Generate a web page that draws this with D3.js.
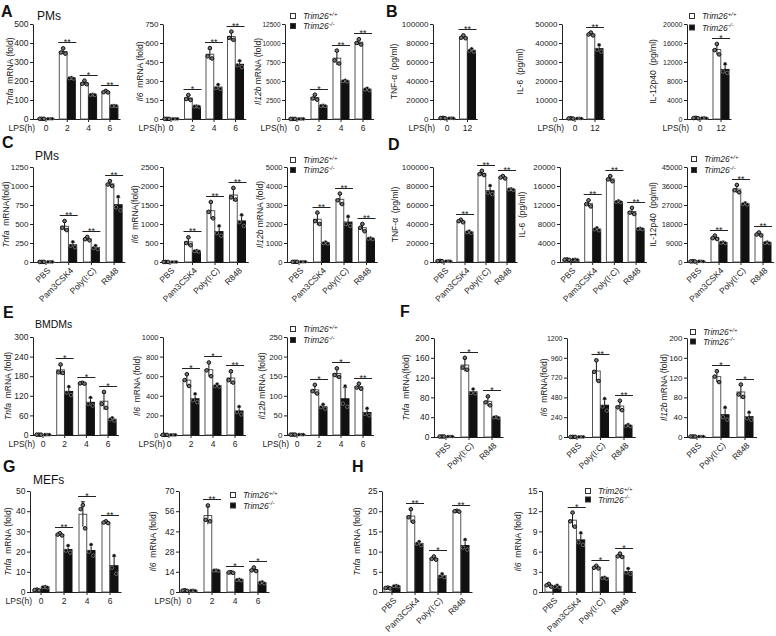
<!DOCTYPE html>
<html>
<head>
<meta charset="utf-8">
<script src="https://d3js.org/d3.v7.min.js"></script>
<style>
  body { margin: 0; background: #fff; }
</style>
</head>
<body>
<script>
// categories
var lpsTimes = ["0", "2", "4", "6"];
var lpsLong = ["0", "12"];
var stimuli = ["PBS", "Pam3CSK4", "Poly(I:C)", "R848"];
var stimuliF = ["PBS", "Poly(I:C)", "R848"];

// A: PMs, LPS time course (mRNA fold)
var aTnfaTicks = [0, 100, 200, 300, 400, 500];
var aTnfaWt = [[1, 1, 1], [372, 350, 344], [202, 185, 183], [148, 141, 140]];
var aTnfaKo = [[1, 1, 1], [218, 215, 213], [130, 128, 127], [71, 70, 69]];
var aTnfaSig = ["", "**", "*", "**"];

var aIl6Ticks = [0, 150, 300, 450, 600, 750];
var aIl6Wt = [[1, 1, 1], [190, 158, 150], [560, 495, 478], [690, 640, 625]];
var aIl6Ko = [[1, 1, 1], [103, 100, 98], [272, 245, 238], [460, 425, 410]];
var aIl6Sig = ["", "*", "**", "**"];

var aIl12Ticks = [0, 2500, 5000, 7500, 10000, 12500];
var aIl12Wt = [[10, 10, 10], [3200, 2700, 2550], [9000, 7700, 7300], [10500, 10000, 9800]];
var aIl12Ko = [[10, 10, 10], [1800, 1750, 1720], [5100, 5000, 4950], [4050, 3900, 3800]];
var aIl12Sig = ["", "*", "**", "**"];

// B: PMs, LPS 12 h (pg/ml)
var bTnfTicks = [0, 20000, 40000, 60000, 80000, 100000];
var bTnfWt = [[1200, 1000, 800], [88000, 85500, 85000]];
var bTnfKo = [[900, 800, 700], [74000, 72000, 71000]];
var bTnfSig = ["", "**"];

var bIl6Ticks = [0, 10000, 20000, 30000, 40000, 50000];
var bIl6Wt = [[400, 300, 200], [45500, 44500, 44000]];
var bIl6Ko = [[350, 300, 250], [39000, 36500, 35500]];
var bIl6Sig = ["", "**"];

var bIl12Ticks = [0, 4000, 8000, 12000, 16000, 20000];
var bIl12Wt = [[250, 200, 150], [15800, 14500, 13600]];
var bIl12Ko = [[250, 200, 150], [11600, 10000, 9700]];
var bIl12Sig = ["", "*"];

// C: PMs, TLR ligands (mRNA fold)
var cTnfaTicks = [0, 250, 500, 750, 1000, 1250];
var cTnfaWt = [[1, 1, 1], [540, 450, 420], [330, 300, 285], [1065, 1020, 1000]];
var cTnfaKo = [[1, 1, 1], [265, 215, 195], [215, 185, 170], [860, 720, 680]];
var cTnfaSig = ["", "**", "**", "**"];

var cIl6Ticks = [0, 500, 1000, 1500, 2000, 2500];
var cIl6Wt = [[1, 1, 1], [650, 500, 440], [1580, 1320, 1150], [1950, 1700, 1640]];
var cIl6Ko = [[1, 1, 1], [300, 290, 280], [950, 760, 690], [1240, 1050, 950]];
var cIl6Sig = ["", "**", "**", "**"];

var cIl12Ticks = [0, 1000, 2000, 3000, 4000, 5000];
var cIl12Wt = [[10, 10, 10], [2600, 2150, 2000], [3600, 3250, 3050], [2000, 1800, 1620]];
var cIl12Ko = [[10, 10, 10], [1050, 1000, 970], [2400, 2000, 1900], [1260, 1230, 1210]];
var cIl12Sig = ["", "**", "**", "**"];

// D: PMs, TLR ligands (pg/ml)
var dTnfTicks = [0, 20000, 40000, 60000, 80000, 100000];
var dTnfWt = [[1200, 1000, 800], [44500, 43000, 41800], [96000, 92500, 91500], [90500, 89000, 88000]];
var dTnfKo = [[900, 800, 700], [32500, 31500, 30800], [80500, 73000, 71500], [77000, 76500, 76000]];
var dTnfSig = ["", "**", "**", "**"];

var dIl6Ticks = [0, 4000, 8000, 12000, 16000, 20000];
var dIl6Wt = [[550, 500, 450], [13000, 12200, 11700], [18100, 17400, 17000], [11400, 10400, 10100]];
var dIl6Ko = [[550, 500, 450], [7200, 6900, 6700], [12900, 12700, 12600], [7100, 7000, 6950]];
var dIl6Sig = ["", "**", "**", "**"];

var dIl12Ticks = [0, 9000, 18000, 27000, 36000, 45000];
var dIl12Wt = [[350, 300, 250], [12500, 11300, 10900], [36500, 34000, 33000], [14000, 13000, 12600]];
var dIl12Ko = [[350, 300, 250], [9500, 9200, 9000], [28000, 27500, 27200], [9500, 9100, 9000]];
var dIl12Sig = ["", "**", "**", "**"];

// E: BMDMs, LPS time course
var eTnfaTicks = [0, 60, 120, 180, 240, 300];
var eTnfaWt = [[1, 1, 1], [216, 192, 190], [160, 158, 157], [132, 95, 83]];
var eTnfaKo = [[1, 1, 1], [148, 130, 122], [115, 95, 90], [53, 48, 44]];
var eTnfaSig = ["", "*", "*", "*"];

var eIl6Ticks = [0, 200, 400, 600, 800, 1000];
var eIl6Wt = [[1, 1, 1], [620, 560, 500], [740, 660, 600], [650, 560, 535]];
var eIl6Ko = [[1, 1, 1], [420, 355, 335], [520, 500, 495], [290, 235, 210]];
var eIl6Sig = ["", "*", "*", "**"];

var eIl12Ticks = [0, 50, 100, 150, 200, 250];
var eIl12Wt = [[1, 1, 1], [128, 112, 106], [170, 153, 148], [131, 121, 118]];
var eIl12Ko = [[1, 1, 1], [78, 71, 67], [125, 80, 72], [68, 54, 50]];
var eIl12Sig = ["", "*", "*", "**"];

// F: BMDMs, Poly(I:C) / R848
var fTnfaTicks = [0, 40, 80, 120, 160, 200];
var fTnfaWt = [[1, 1, 1], [160, 140, 136], [82, 70, 64]];
var fTnfaKo = [[1, 1, 1], [97, 89, 88], [41, 40, 39]];
var fTnfaSig = ["", "*", "*"];

var fIl6Ticks = [0, 240, 480, 720, 960, 1200];
var fIl6Wt = [[1, 1, 1], [930, 790, 680], [440, 360, 325]];
var fIl6Ko = [[1, 1, 1], [465, 370, 320], [150, 137, 133]];
var fIl6Sig = ["", "**", "**"];

var fIl12Ticks = [0, 40, 80, 120, 160, 200];
var fIl12Wt = [[1, 1, 1], [133, 122, 111], [106, 86, 81]];
var fIl12Ko = [[1, 1, 1], [60, 40, 35], [50, 38, 35]];
var fIl12Sig = ["", "*", "*"];

// G: MEFs, LPS time course
var gTnfaTicks = [0, 10, 20, 30, 40, 50];
var gTnfaWt = [[1.2, 1, 0.8], [29.1, 28.4, 28], [43, 41, 31.5], [35, 34.4, 34.1]];
var gTnfaKo = [[2.7, 2.5, 2.3], [23, 20.5, 19.5], [23.5, 20, 18], [18, 12, 9]];
var gTnfaSig = ["", "**", "*", "**"];

var gIl6Ticks = [0, 14, 28, 42, 56, 70];
var gIl6Wt = [[1.2, 1, 0.8], [60, 50, 49], [13.7, 13.5, 13.3], [17, 15, 14.5]];
var gIl6Ko = [[1.2, 1, 0.8], [15.2, 15, 14.8], [8.8, 8.5, 8.2], [7, 6.5, 6]];
var gIl6Sig = ["", "**", "*", "*"];

// H: MEFs, TLR ligands
var hTnfaTicks = [0, 5, 10, 15, 20, 25];
var hTnfaWt = [[1.1, 1, 0.9], [20.5, 18.5, 17.4], [8.8, 8.2, 8], [20.1, 20, 19.9]];
var hTnfaKo = [[1.6, 1.5, 1.4], [12.5, 12, 11.6], [4.5, 3.9, 3.7], [13, 11, 10.5]];
var hTnfaSig = ["", "**", "*", "**"];

var hIl6Ticks = [0, 3, 6, 9, 12, 15];
var hIl6Wt = [[1.2, 1, 0.8], [11.8, 10.5, 9.7], [3.9, 3.6, 3.5], [5.7, 5.3, 5.2]];
var hIl6Ko = [[1, 0.8, 0.7], [8.8, 7.4, 7], [2.2, 2.1, 2], [3.5, 2.9, 2.7]];
var hIl6Sig = ["", "*", "*", "*"];

var width = 776;
var height = 636;

var svg = d3.select("body").append("svg")
  .attr("width", width)
  .attr("height", height)
  .style("font-family", "'Liberation Sans', Arial, sans-serif");

var ink = "#222";
var dotOffsets = [0, -2.2, 2.2];

function drawChart(c) {
  var n = c.cats.length;
  var pin = 1 - 16 / c.step;
  var xEnd = c.x1 + c.step * (n - 0.5);
  var tickFont = c.tickFont || 8.5;

  var x = d3.scaleBand().domain(c.cats)
    .range([c.x1 - c.step / 2, xEnd])
    .paddingInner(pin)
    .paddingOuter(pin / 2);
  var xs = d3.scaleBand().domain(["wt", "ko"])
    .range([0, x.bandwidth()])
    .paddingInner(0.06);
  var y = d3.scaleLinear().domain([0, d3.max(c.ticks)]).range([c.yBot, c.yTop]);

  var g = svg.append("g");

  // y axis
  g.append("g")
    .attr("transform", "translate(" + c.x0 + ",0)")
    .call(d3.axisLeft(y).tickValues(c.ticks).tickSize(3).tickSizeOuter(0)
      .tickPadding(1.5).tickFormat(d3.format("d")))
    .attr("font-family", null).attr("font-size", tickFont).attr("color", ink);

  // x axis
  var xa = g.append("g")
    .attr("transform", "translate(0," + c.yBot + ")")
    .call(d3.axisBottom(x).tickSize(3).tickPadding(3))
    .attr("font-family", null).attr("font-size", 8.5).attr("color", ink);
  xa.select(".domain").remove();
  xa.append("line")
    .attr("x1", c.x0).attr("x2", xEnd)
    .attr("y1", 0.5).attr("y2", 0.5)
    .attr("stroke", ink);

  if (c.rotate) {
    xa.selectAll(".tick text")
      .attr("x", 0).attr("y", 0).attr("dy", "0.35em")
      .attr("transform", "translate(3,7) rotate(-45)")
      .attr("text-anchor", "end");
  } else {
    xa.append("text")
      .attr("x", c.x0 + 2).attr("y", 6).attr("dy", "0.71em")
      .attr("text-anchor", "end")
      .attr("fill", ink)
      .text("LPS(h)");
  }

  // y label
  var lab = g.append("text")
    .attr("transform", "translate(" + c.labelX + "," + (c.yTop + c.yBot) / 2 + ") rotate(-90)")
    .attr("text-anchor", "middle")
    .attr("dominant-baseline", "central")
    .attr("font-size", 8.5)
    .attr("fill", ink)
    .style("white-space", "pre");
  lab.append("tspan").attr("font-style", "italic").text(c.gene);
  lab.append("tspan").text(c.unit);

  // bar records
  var bars = [];
  c.cats.forEach(function(cat, i) {
    [["wt", c.wt[i]], ["ko", c.ko[i]]].forEach(function(p) {
      bars.push({
        cat: cat, key: p[0], vals: p[1],
        mean: d3.mean(p[1]), sd: d3.deviation(p[1]),
        cx: x(cat) + xs(p[0]) + xs.bandwidth() / 2
      });
    });
  });

  g.selectAll("rect.bar")
    .data(bars)
    .join("rect")
    .attr("class", "bar")
    .attr("x", function(d) { return x(d.cat) + xs(d.key); })
    .attr("width", xs.bandwidth())
    .attr("y", function(d) { return y(d.mean); })
    .attr("height", function(d) { return c.yBot - y(d.mean); })
    .attr("fill", function(d) { return d.key == "wt" ? "#fff" : "#111"; })
    .attr("stroke", function(d) { return d.key == "wt" ? "#555" : "#111"; })
    .attr("stroke-width", 1);

  // error bars
  var eb = g.selectAll("g.err")
    .data(bars)
    .join("g")
    .attr("class", "err");
  eb.append("line")
    .attr("x1", function(d) { return d.cx; })
    .attr("x2", function(d) { return d.cx; })
    .attr("y1", function(d) { return y(Math.max(0, d.mean - d.sd)); })
    .attr("y2", function(d) { return y(d.mean + d.sd); })
    .attr("stroke", "#111");
  eb.append("line")
    .attr("x1", function(d) { return d.cx - 2; })
    .attr("x2", function(d) { return d.cx + 2; })
    .attr("y1", function(d) { return y(d.mean + d.sd); })
    .attr("y2", function(d) { return y(d.mean + d.sd); })
    .attr("stroke", "#111");

  // dots
  var dots = [];
  bars.forEach(function(b) {
    b.vals.forEach(function(v, j) {
      dots.push({ key: b.key, v: v, cx: b.cx + dotOffsets[j] });
    });
  });
  g.selectAll("circle")
    .data(dots)
    .join("circle")
    .attr("cx", function(d) { return d.cx; })
    .attr("cy", function(d) { return y(d.v); })
    .attr("r", 1.8)
    .attr("fill", function(d) { return d.key == "wt" ? "#777" : "#111"; })
    .attr("stroke", function(d) { return d.key == "wt" ? "#111" : "#ddd"; })
    .attr("stroke-width", function(d) { return d.key == "wt" ? 1 : 0.4; });

  // significance
  var sigs = c.cats.map(function(cat, i) {
    var top = d3.max(bars.filter(function(b) { return b.cat == cat; }), function(b) {
      return Math.max(d3.max(b.vals), b.mean + b.sd);
    });
    return { cat: cat, mark: c.sig[i], ly: Math.round(y(top) - 6) + 0.5 };
  }).filter(function(d) { return d.mark != ""; });

  g.selectAll("line.sig")
    .data(sigs)
    .join("line")
    .attr("class", "sig")
    .attr("x1", function(d) { return x(d.cat) - 1; })
    .attr("x2", function(d) { return x(d.cat) + x.bandwidth() + 1; })
    .attr("y1", function(d) { return d.ly; })
    .attr("y2", function(d) { return d.ly; })
    .attr("stroke", ink);
  g.selectAll("text.sig")
    .data(sigs)
    .join("text")
    .attr("class", "sig")
    .attr("x", function(d) { return x(d.cat) + x.bandwidth() / 2; })
    .attr("y", function(d) { return d.ly + 2.5; })
    .attr("text-anchor", "middle")
    .attr("font-size", 9)
    .attr("fill", ink)
    .text(function(d) { return d.mark; });

  // legend
  if (c.legend) {
    var L = c.legend;
    var items = [["#fff", "+/+"], ["#111", "-/-"]];
    items.forEach(function(it, k) {
      var yy = L.y + k * L.gap;
      g.append("rect")
        .attr("x", L.x + 0.5).attr("y", yy + 0.5)
        .attr("width", 5).attr("height", 5)
        .attr("fill", it[0]).attr("stroke", "#333");
      var t = g.append("text")
        .attr("x", L.x + 13).attr("y", yy + 6)
        .attr("font-size", 8.5).attr("font-style", "italic").attr("fill", ink);
      t.append("tspan").text("Trim26");
      t.append("tspan").attr("dy", -3.5).attr("font-size", 6).text(it[1]);
    });
  }
}

var charts = [
  { cats: lpsTimes, wt: aTnfaWt, ko: aTnfaKo, sig: aTnfaSig, ticks: aTnfaTicks,
    x0: 33, x1: 46, step: 21.3, yTop: 24, yBot: 119, gene: "Tnfa", unit: "  mRNA (fold)", labelX: 10 },
  { cats: lpsTimes, wt: aIl6Wt, ko: aIl6Ko, sig: aIl6Sig, ticks: aIl6Ticks, tickFont: 8,
    x0: 163, x1: 171, step: 21.5, yTop: 24, yBot: 119, gene: "Il6", unit: "  mRNA (fold)", labelX: 140 },
  { cats: lpsTimes, wt: aIl12Wt, ko: aIl12Ko, sig: aIl12Sig, ticks: aIl12Ticks, tickFont: 6.5,
    x0: 285, x1: 297, step: 22, yTop: 24, yBot: 119, gene: "Il12b", unit: " mRNA (fold)", labelX: 258,
    legend: { x: 290, y: 13, gap: 10 } },

  { cats: lpsLong, wt: bTnfWt, ko: bTnfKo, sig: bTnfSig, ticks: bTnfTicks, tickFont: 8,
    x0: 433, x1: 447, step: 20.5, yTop: 24, yBot: 119, gene: "", unit: "TNF-α  (pg/ml)", labelX: 394 },
  { cats: lpsLong, wt: bIl6Wt, ko: bIl6Ko, sig: bIl6Sig, ticks: bIl6Ticks, tickFont: 8,
    x0: 562, x1: 575, step: 20, yTop: 24, yBot: 119, gene: "", unit: "IL-6  (pg/ml)", labelX: 520 },
  { cats: lpsLong, wt: bIl12Wt, ko: bIl12Ko, sig: bIl12Sig, ticks: bIl12Ticks, tickFont: 7,
    x0: 687, x1: 700, step: 21, yTop: 24, yBot: 119, gene: "", unit: "IL-12p40  (pg/ml)", labelX: 653,
    legend: { x: 689, y: 13, gap: 11.5 } },

  { cats: stimuli, wt: cTnfaWt, ko: cTnfaKo, sig: cTnfaSig, ticks: cTnfaTicks, rotate: true, tickFont: 8,
    x0: 33, x1: 46, step: 22.7, yTop: 167, yBot: 262, gene: "Tnfa", unit: "  mRNA(fold)", labelX: 6 },
  { cats: stimuli, wt: cIl6Wt, ko: cIl6Ko, sig: cIl6Sig, ticks: cIl6Ticks, rotate: true, tickFont: 8,
    x0: 163, x1: 170, step: 22.5, yTop: 167, yBot: 262, gene: "Il6", unit: "  mRNA(fold)", labelX: 135 },
  { cats: stimuli, wt: cIl12Wt, ko: cIl12Ko, sig: cIl12Sig, ticks: cIl12Ticks, rotate: true, tickFont: 7.5,
    x0: 287, x1: 299, step: 22.5, yTop: 167, yBot: 262, gene: "Il12b", unit: " mRNA (fold)", labelX: 260,
    legend: { x: 290, y: 157, gap: 10 } },

  { cats: stimuli, wt: dTnfWt, ko: dTnfKo, sig: dTnfSig, ticks: dTnfTicks, rotate: true, tickFont: 8,
    x0: 433, x1: 444, step: 21, yTop: 167, yBot: 262, gene: "", unit: "TNF-α  (pg/ml)", labelX: 395 },
  { cats: stimuli, wt: dIl6Wt, ko: dIl6Ko, sig: dIl6Sig, ticks: dIl6Ticks, rotate: true, tickFont: 8,
    x0: 560, x1: 571, step: 21.7, yTop: 167, yBot: 262, gene: "", unit: "IL-6  (pg/ml)", labelX: 522 },
  { cats: stimuli, wt: dIl12Wt, ko: dIl12Ko, sig: dIl12Sig, ticks: dIl12Ticks, rotate: true, tickFont: 7.5,
    x0: 687, x1: 697, step: 22, yTop: 167, yBot: 262, gene: "", unit: "IL-12p40  (pg/ml)", labelX: 653,
    legend: { x: 691, y: 156, gap: 11 } },

  { cats: lpsTimes, wt: eTnfaWt, ko: eTnfaKo, sig: eTnfaSig, ticks: eTnfaTicks,
    x0: 33, x1: 43, step: 21.7, yTop: 337, yBot: 435, gene: "Tnfa", unit: "  mRNA (fold)", labelX: 8 },
  { cats: lpsTimes, wt: eIl6Wt, ko: eIl6Ko, sig: eIl6Sig, ticks: eIl6Ticks, tickFont: 7.5,
    x0: 163, x1: 169, step: 22, yTop: 337, yBot: 435, gene: "Il6", unit: "  mRNA (fold)", labelX: 137 },
  { cats: lpsTimes, wt: eIl12Wt, ko: eIl12Ko, sig: eIl12Sig, ticks: eIl12Ticks, tickFont: 8,
    x0: 287, x1: 297, step: 22, yTop: 337, yBot: 435, gene: "Il12b", unit: " mRNA (fold)", labelX: 262,
    legend: { x: 290, y: 326, gap: 11 } },

  { cats: stimuliF, wt: fTnfaWt, ko: fTnfaKo, sig: fTnfaSig, ticks: fTnfaTicks, rotate: true,
    x0: 434, x1: 446, step: 23, yTop: 338, yBot: 437, gene: "Tnfa", unit: "  mRNA(fold)", labelX: 406 },
  { cats: stimuliF, wt: fIl6Wt, ko: fIl6Ko, sig: fIl6Sig, ticks: fIl6Ticks, rotate: true, tickFont: 7,
    x0: 567, x1: 577, step: 23.5, yTop: 338, yBot: 437, gene: "Il6", unit: "  mRNA(fold)", labelX: 544 },
  { cats: stimuliF, wt: fIl12Wt, ko: fIl12Ko, sig: fIl12Sig, ticks: fIl12Ticks, rotate: true, tickFont: 8,
    x0: 687, x1: 697, step: 24, yTop: 338, yBot: 437, gene: "Il12b", unit: " mRNA (fold)", labelX: 664,
    legend: { x: 690, y: 329, gap: 9.5 } },

  { cats: lpsTimes, wt: gTnfaWt, ko: gTnfaKo, sig: gTnfaSig, ticks: gTnfaTicks,
    x0: 30, x1: 41, step: 23, yTop: 491, yBot: 592, gene: "Tnfa", unit: "  mRNA (fold)", labelX: 8 },
  { cats: lpsTimes, wt: gIl6Wt, ko: gIl6Ko, sig: gIl6Sig, ticks: gIl6Ticks,
    x0: 179, x1: 189, step: 23, yTop: 491, yBot: 592, gene: "Il6", unit: "  mRNA (fold)", labelX: 153,
    legend: { x: 230, y: 492, gap: 10.5 } },

  { cats: stimuli, wt: hTnfaWt, ko: hTnfaKo, sig: hTnfaSig, ticks: hTnfaTicks, rotate: true,
    x0: 382, x1: 392, step: 23, yTop: 491, yBot: 592, gene: "Tnfa", unit: "  mRNA (fold)", labelX: 357 },
  { cats: stimuli, wt: hIl6Wt, ko: hIl6Ko, sig: hIl6Sig, ticks: hIl6Ticks, rotate: true,
    x0: 542, x1: 553, step: 23.7, yTop: 491, yBot: 592, gene: "Il6", unit: "  mRNA (fold)", labelX: 518,
    legend: { x: 585, y: 488, gap: 8.5 } }
];

charts.forEach(drawChart);

// panel letters and cell-type titles
var letters = [
  ["A", 1, 17], ["B", 386, 17], ["C", 2, 148], ["D", 388, 150],
  ["E", 3, 318], ["F", 400, 317], ["G", 3, 472], ["H", 352, 472]
];
svg.selectAll("text.letter")
  .data(letters)
  .join("text")
  .attr("class", "letter")
  .attr("x", function(d) { return d[1]; })
  .attr("y", function(d) { return d[2]; })
  .attr("font-size", 16)
  .attr("font-weight", "bold")
  .attr("fill", "#111")
  .text(function(d) { return d[0]; });

var titles = [["PMs", 37, 20, 12], ["PMs", 35, 160, 12], ["BMDMs", 35, 328, 10.5], ["MEFs", 33, 484, 12]];
svg.selectAll("text.title")
  .data(titles)
  .join("text")
  .attr("class", "title")
  .attr("x", function(d) { return d[1]; })
  .attr("y", function(d) { return d[2]; })
  .attr("font-size", function(d) { return d[3]; })
  .attr("fill", "#111")
  .text(function(d) { return d[0]; });
</script>
</body>
</html>
